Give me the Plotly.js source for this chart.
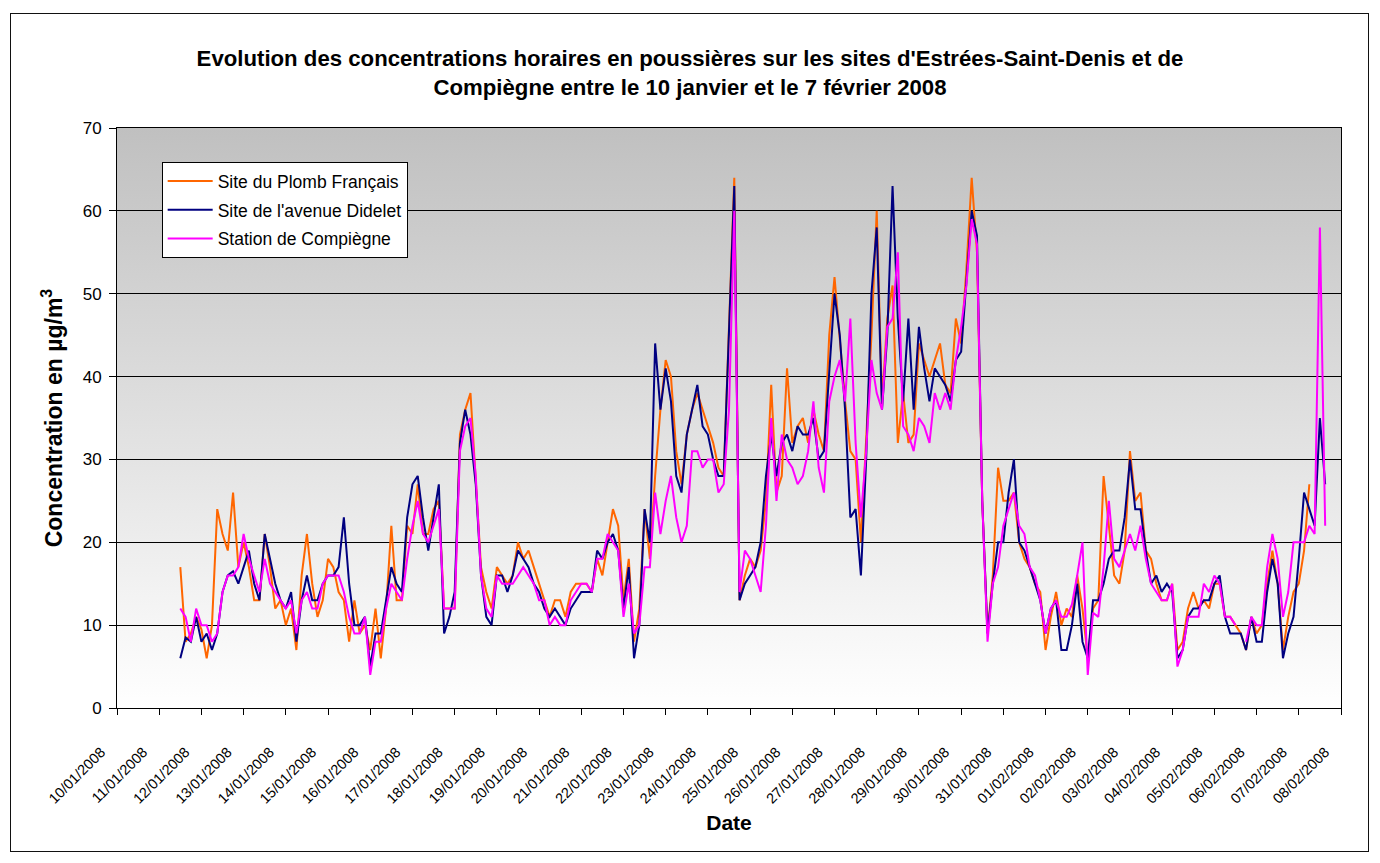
<!DOCTYPE html>
<html><head><meta charset="utf-8">
<script src="https://cdn.plot.ly/plotly-3.0.1.min.js"></script>
<style>
html,body{margin:0;padding:0;background:#fff;}
#wrap{position:relative;width:1380px;height:863px;overflow:hidden;}
#bg{position:absolute;left:117px;top:128px;width:1224px;height:580px;background:linear-gradient(#c0c0c0,#ffffff);z-index:0;}
#chart{position:absolute;left:0;top:0;width:1380px;height:863px;z-index:1;}
#frame{position:absolute;left:10px;top:13px;width:1357px;height:837px;border:1.5px solid #111;z-index:2;pointer-events:none;}
</style></head>
<body><div id="wrap"><div id="bg"></div><div id="chart"></div><div id="frame"></div></div>
<script>
// Series start 11/01/2008 12:00, one reading every 3 hours
var startTime = "2008-01-11T12:00:00Z";
var stepHours = 3;

var plombFrancais = [
 17, 8, 9, 11,
 9.5, 6, 10, 24, 21, 19, 26, 17,
 20, 17, 13, 13, 21, 17, 12, 13,
 10, 12, 7, 16, 21, 15, 11, 13,
 18, 17, 14, 13, 8, 13, 9, 10,
 7, 12, 6, 12, 22, 13, 13, 22,
 21, 27, 21, 21, 24, 25, 12, 12,
 12, 33, 36, 38, 28, 17, 14, 12,
 17, 16, 15, 16, 20, 18, 19, 17,
 15, 13, 11, 13, 13, 11, 14, 15,
 15, 15, 14, 18, 16, 20, 24, 22,
 13, 18, 8, 12, 24, 18, 28, 36,
 42, 40, 31, 27, 33, 36, 38, 36,
 34, 32, 29, 28, 46, 64, 13, 16,
 18, 17, 19, 25, 39, 26, 28, 41,
 32, 34, 35, 32, 36, 33, 31, 45,
 52, 44, 37, 31, 30, 20, 33, 45,
 60, 37, 47, 51, 32, 38, 32, 33,
 44, 42, 40, 42, 44, 39, 38, 47,
 44, 53, 64, 55, 25, 9, 16, 29,
 25, 25, 26, 20, 18, 17, 15, 14,
 7, 11, 14, 10, 12, 11, 16, 12,
 6, 12, 13, 28, 22, 16, 15, 19,
 31, 25, 26, 19, 18, 15, 13, 13,
 15, 7, 8, 12, 14, 12, 13, 12,
 15, 15, 11, 11, 10, 9, 7, 11,
 9, 10, 15, 19, 15, 7, 11, 14,
 15, 19, 27, null, null, null
];

var avenueDidelet = [
 6, 8.5, 8, 11,
 8, 9, 7, 9, 14, 16, 16.5, 15,
 17, 19, 15, 13, 21, 18, 15, 13,
 12, 14, 8, 13, 16, 13, 13, 15,
 16, 16, 17, 23, 15, 10, 10, 11,
 5, 9, 9, 13, 17, 15, 14, 23,
 27, 28, 23, 19, 23, 27, 9, 11,
 14, 32, 36, 33, 27, 16, 11, 10,
 16, 16, 14, 16, 19, 18, 17, 15,
 14, 12, 11, 12, 11, 10, 12, 13,
 14, 14, 14, 19, 18, 20, 21, 19,
 12, 17, 6, 10, 24, 20, 44, 36,
 41, 37, 28, 26, 33, 36, 39, 34,
 33, 30, 28, 28, 46, 63, 13, 15,
 16, 17, 20, 28, 33, 28, 32, 33,
 31, 34, 33, 33, 35, 30, 31, 41,
 50, 45, 36, 23, 24, 16, 30, 50,
 58, 36, 45, 63, 47, 37, 47, 36,
 46, 41, 37, 41, 40, 39, 37, 42,
 43, 52, 60, 57, 25, 9, 15, 20,
 20, 26, 30, 20, 19, 17, 15, 13,
 9, 12, 13, 7, 7, 10, 15, 8,
 6, 13, 13, 15, 18, 19, 19, 23,
 30, 24, 24, 19, 15, 16, 14, 15,
 14, 6, 7, 11, 12, 12, 13, 13,
 15, 16, 11, 9, 9, 9, 7, 11,
 8, 8, 14, 18, 15, 6, 9, 11,
 18, 26, 24, 22, 35, 27
];

var compiegne = [
 12, 11, 8, 12,
 10, 10, 8, 9, 14, 16, 16, 17,
 21, 18, 16, 14, 18, 15, 14, 13,
 12, 13, 9, 13, 14, 12, 12, 15,
 16, 16, 16, 14, 11, 9, 9, 11,
 4, 8, 8, 12, 15, 14, 13, 18,
 22, 25, 21, 20, 22, 24, 12, 12,
 12, 31, 34, 35, 28, 16, 12, 11,
 16, 15, 15, 15, 16, 17, 16, 15,
 13, 13, 10, 11, 10, 10, 13, 14,
 15, 15, 14, 18, 18, 21, 20, 19,
 11, 15, 9, 10, 17, 17, 26, 21,
 25, 28, 23, 20, 22, 31, 31, 29,
 30, 30, 26, 27, 36, 60, 14, 19,
 18, 16, 14, 22, 35, 25, 33, 30,
 29, 27, 28, 31, 37, 29, 26, 37,
 40, 42, 37, 47, 32, 23, 31, 42,
 38, 36, 46, 47, 55, 34, 33, 31,
 35, 34, 32, 38, 36, 38, 36, 42,
 46, 51, 59, 56, 25, 8, 15, 17,
 22, 24, 26, 22, 21, 17, 16, 13,
 9, 12, 13, 11, 11, 12.5, 16, 20,
 4, 11.5, 11, 17, 25, 18, 17, 19,
 21, 19, 22, 18, 15, 14, 13, 13,
 15, 5, 7, 11, 11, 11, 15, 14,
 16, 15, 11, 11, 10, null, 8, 11,
 10, 10, 17, 21, 18, 11, 14, 20,
 20, 20, 22, 21, 58, 22
];

var seriesNames = ["Site du Plomb Français", "Site de l'avenue Didelet", "Station de Compiègne"];
var seriesColors = ["#FF6600", "#000080", "#FF00FF"];
var titleText = "<b>Evolution des concentrations horaires en poussières sur les sites d'Estrées-Saint-Denis et de<br>Compiègne entre le 10 janvier et le 7 février 2008</b>";
var xTitle = "<b>Date</b>";
var yTitle = "<b>Concentration en µg/m<sup>3</sup></b>";

function timeAxis(n) {
  var t0 = Date.parse(startTime);
  var out = [];
  for (var i = 0; i < n; i++) {
    var d = new Date(t0 + i * stepHours * 3600000);
    out.push(d.toISOString().slice(0, 19).replace("T", " "));
  }
  return out;
}

var allSeries = [plombFrancais, avenueDidelet, compiegne];
var traces = allSeries.map(function (vals, k) {
  return {
    type: "scatter", mode: "lines",
    x: timeAxis(vals.length), y: vals,
    name: seriesNames[k], legendgroup: "g" + k,
    line: {color: seriesColors[k], width: 2},
    connectgaps: false
  };
});

var font = "Arial, 'Liberation Sans', sans-serif";
var layout = {
  width: 1380, height: 863,
  margin: {l: 117, r: 39, t: 128, b: 155},
  paper_bgcolor: "rgba(0,0,0,0)",
  plot_bgcolor: "rgba(0,0,0,0)",
  font: {family: font, color: "#000"},
  showlegend: true,
  title: {text: titleText, font: {size: 22.2, family: font, color: "#000"}, x: 0.5, xref: "container", y: 0.923, yref: "container", yanchor: "middle"},
  xaxis: {
    type: "date",
    range: ["2008-01-10 00:00", "2008-02-08 00:00"],
    tick0: "2008-01-10", dtick: 86400000,
    tickformat: "%d/%m/%Y", tickangle: -45,
    tickfont: {size: 14.5, family: font},
    ticks: "outside", ticklen: 6, tickcolor: "#000",
    ticklabelstandoff: 23, ticklabelshift: -16,
    showgrid: false, zeroline: false,
    showline: true, linecolor: "#000", linewidth: 1, mirror: true,
    title: {text: xTitle, font: {size: 21, family: font}, standoff: 9}
  },
  yaxis: {
    range: [0, 70], dtick: 10,
    tickfont: {size: 17, family: font},
    ticks: "outside", ticklen: 7, tickcolor: "#000",
    ticklabelstandoff: 4,
    showgrid: true, gridcolor: "#000", gridwidth: 1,
    zeroline: false,
    showline: true, linecolor: "#000", linewidth: 1, mirror: true,
    title: {text: yTitle, font: {size: 23, family: font}, standoff: 13}
  },
  legend: {
    x: 0.0365, y: 0.941, xanchor: "left", yanchor: "top",
    bgcolor: "#fff", bordercolor: "#000", borderwidth: 1,
    font: {size: 17.5, family: font},
    itemwidth: 45,
    tracegroupgap: 3
  }
};

Plotly.newPlot("chart", traces, layout, {staticPlot: true, displayModeBar: false});
</script>
</body></html>
